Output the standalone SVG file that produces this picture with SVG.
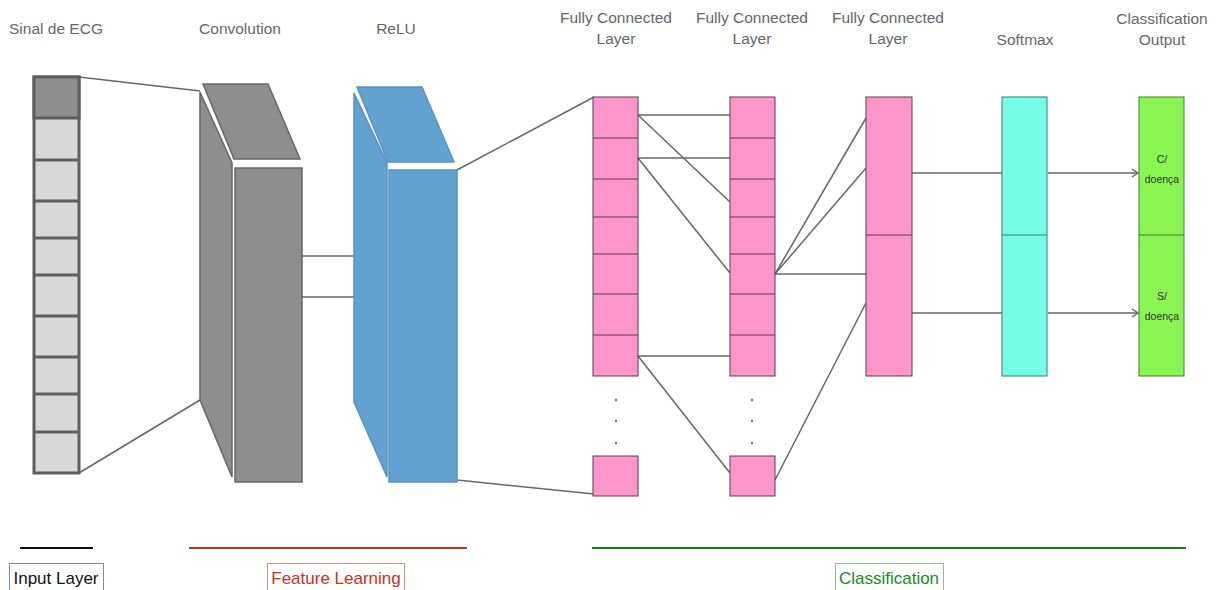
<svg xmlns="http://www.w3.org/2000/svg" width="1218" height="590" viewBox="0 0 1218 590">
<defs>
<style>
.t{font-family:"Liberation Sans",Arial,sans-serif;font-size:15.5px;fill:#666;text-anchor:middle}
.s{font-family:"Liberation Sans",Arial,sans-serif;font-size:10.5px;fill:#333;text-anchor:middle}
.b{font-family:"Liberation Sans",Arial,sans-serif;font-size:17px;text-anchor:middle}
.c{stroke:#666;stroke-width:1.5;fill:none}
.in{fill:#d8d8d8;stroke:#5e5e5e;stroke-width:3}
.gr{fill:#8e8e8e;stroke:#666;stroke-width:1.5}
.bl{fill:#63a1d0;stroke:#5a92c0;stroke-width:1.5}
.pk{fill:#fe96c9;stroke:#5a3f4d;stroke-width:1}
.cy{fill:#76fde5;stroke:#3f7a70;stroke-width:1}
.gn{fill:#88f552;stroke:#4a7a35;stroke-width:1}
.dot{fill:#777}
</style>
<marker id="ar" markerWidth="10" markerHeight="10" refX="8" refY="5" orient="auto" markerUnits="userSpaceOnUse">
<path d="M2,1 L8,5 L2,9" fill="none" stroke="#666" stroke-width="1.5"/>
</marker>
</defs>
<rect width="1218" height="590" fill="#fff"/>

<g id="titles">
<text class="t" x="56" y="34">Sinal de ECG</text>
<text class="t" x="240" y="34">Convolution</text>
<text class="t" x="396" y="34">ReLU</text>
<text class="t" x="616" y="23">Fully Connected</text>
<text class="t" x="616" y="44">Layer</text>
<text class="t" x="752" y="23">Fully Connected</text>
<text class="t" x="752" y="44">Layer</text>
<text class="t" x="888" y="23">Fully Connected</text>
<text class="t" x="888" y="44">Layer</text>
<text class="t" x="1025" y="45">Softmax</text>
<text class="t" x="1162" y="24">Classification</text>
<text class="t" x="1162" y="45">Output</text>
</g>

<g id="connectors">
<path class="c" d="M79,77 L200,91"/>
<path class="c" d="M79,473 L200,400"/>
<path class="c" d="M301,256 L355,256"/>
<path class="c" d="M301,297 L355,297"/>
<path class="c" d="M457,170 L594,97"/>
<path class="c" d="M457,480 L594,494"/>
<path class="c" d="M638,115 L730,115"/>
<path class="c" d="M638,115 L730,202"/>
<path class="c" d="M638,158 L730,158"/>
<path class="c" d="M638,158 L730,273"/>
<path class="c" d="M638,356 L730,356"/>
<path class="c" d="M638,356 L730,473"/>
<path class="c" d="M775,274 L866,118"/>
<path class="c" d="M775,274 L866,168"/>
<path class="c" d="M775,274 L866,274"/>
<path class="c" d="M775,480 L866,303"/>
<path class="c" d="M912,173 L1002,173"/>
<path class="c" d="M912,313 L1002,313"/>
<path class="c" d="M1048,173 L1138,173" marker-end="url(#ar)"/>
<path class="c" d="M1048,313 L1138,313" marker-end="url(#ar)"/>
</g>

<g id="input">
<rect class="in" x="34" y="77" width="45" height="396"/>
<rect x="34" y="77" width="45" height="41" fill="#8e8e8e" stroke="#5e5e5e" stroke-width="3"/>
<path d="M34,160H79M34,201H79M34,238H79M34,275H79M34,316H79M34,357H79M34,394H79M34,432H79" stroke="#5e5e5e" stroke-width="3"/>
</g>

<g id="convolution">
<polygon class="gr" points="200,92 232,163 232,477 200,400"/>
<polygon class="gr" points="203,84 268,84 300,159 234,159"/>
<rect class="gr" x="235" y="168" width="67" height="314"/>
</g>

<g id="relu">
<polygon class="bl" points="354,93 387,163 387,477 354,402"/>
<polygon class="bl" points="357,87 422,87 454,162 388,162"/>
<rect class="bl" x="389" y="170" width="68" height="312"/>
</g>

<g id="fc1">
<rect class="pk" x="593" y="97" width="45" height="279"/>
<path d="M593,138H638M593,179H638M593,217H638M593,254H638M593,294H638M593,335H638" stroke="#5a3f4d" stroke-width="1"/>
<circle class="dot" cx="616" cy="400" r="1.2"/>
<circle class="dot" cx="616" cy="421" r="1.2"/>
<circle class="dot" cx="616" cy="443" r="1.2"/>
<rect class="pk" x="593" y="456" width="45" height="40"/>
</g>

<g id="fc2">
<rect class="pk" x="730" y="97" width="45" height="279"/>
<path d="M730,138H775M730,179H775M730,217H775M730,254H775M730,294H775M730,335H775" stroke="#5a3f4d" stroke-width="1"/>
<circle class="dot" cx="752" cy="400" r="1.2"/>
<circle class="dot" cx="752" cy="421" r="1.2"/>
<circle class="dot" cx="752" cy="443" r="1.2"/>
<rect class="pk" x="730" y="456" width="45" height="40"/>
</g>

<g id="fc3">
<rect class="pk" x="866" y="97" width="46" height="279"/>
<path d="M866,235H912" stroke="#5a3f4d" stroke-width="1"/>
</g>

<g id="softmax">
<rect class="cy" x="1002" y="97" width="45" height="279"/>
<path d="M1002,235H1047" stroke="#3f7a70" stroke-width="1"/>
</g>

<g id="output">
<rect class="gn" x="1139" y="97" width="45" height="279"/>
<path d="M1139,235H1184" stroke="#4a7a35" stroke-width="1"/>
<text class="s" x="1162" y="163">C/</text>
<text class="s" x="1162" y="183">doença</text>
<text class="s" x="1162" y="300">S/</text>
<text class="s" x="1162" y="320">doença</text>
</g>

<g id="legend-input">
<path d="M20,548H93" stroke="#111" stroke-width="2"/>
<rect x="9.5" y="563.5" width="94" height="30" fill="none" stroke="#888" stroke-width="1"/>
<text class="b" x="56" y="584" fill="#111">Input Layer</text>
</g>

<g id="legend-feature">
<path d="M189,548H467" stroke="#c8301e" stroke-width="2"/>
<rect x="267.5" y="563.5" width="137" height="30" fill="none" stroke="#e08a80" stroke-width="1"/>
<text class="b" x="336" y="584" fill="#c8301e">Feature Learning</text>
</g>

<g id="legend-class">
<path d="M592,548H1186" stroke="#1a7f1a" stroke-width="2"/>
<rect x="835.5" y="563.5" width="108" height="30" fill="none" stroke="#8cc08c" stroke-width="1"/>
<text class="b" x="889" y="584" fill="#1a8a1a">Classification</text>
</g>
</svg>
